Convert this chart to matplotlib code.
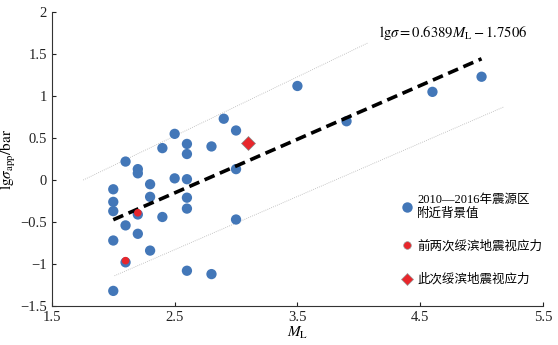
import matplotlib.pyplot as plt
from matplotlib.lines import Line2D

plt.rcParams['font.family'] = ['Liberation Serif', 'Noto Sans CJK SC']
plt.rcParams['mathtext.fontset'] = 'stix'

# 2010-2016 background values
ml_bg = [2.1, 2.2, 2.2, 2.4, 2.5, 2.6, 2.6, 2.8, 2.9, 3.0, 3.0,
         3.5, 3.9, 4.6, 5.0,
         2.0, 2.0, 2.0, 2.0, 2.0, 2.1, 2.1, 2.2, 2.2, 2.3, 2.3, 2.3,
         2.4, 2.5, 2.6, 2.6, 2.6, 2.6, 2.8, 3.0]
lg_bg = [0.22, 0.13, 0.08, 0.38, 0.55, 0.43, 0.31, 0.40, 0.73, 0.59, 0.13,
         1.12, 0.70, 1.05, 1.23,
         -0.11, -0.26, -0.37, -0.72, -1.32, -0.54, -0.98, -0.41, -0.64, -0.05, -0.20, -0.84,
         -0.44, 0.02, 0.01, -0.21, -0.34, -1.08, -1.12, -0.47]

# previous two Suibin earthquakes
ml_prev = [2.1, 2.2]
lg_prev = [-0.96, -0.39]

# this Suibin earthquake
ml_now = [3.1]
lg_now = [0.44]

# fit lgσ = 0.6389 ML - 1.7506
fit_x = [2.0, 5.0]
fit_y = [0.6389 * x - 1.7506 for x in fit_x]

# bounds (dotted)
up_x = [1.755, 4.07]
up_y = [0.0, 1.63]
lo_x = [2.01, 5.18]
lo_y = [-1.14, 0.87]

blue = '#4377b8'
red = '#e8262b'

fig = plt.figure(figsize=(5.58, 3.45), dpi=100)
ax = fig.add_axes([0.093, 0.113, 0.88, 0.852])

ax.plot(up_x, up_y, ls=(0, (1, 1.5)), color='#b5b5b5', lw=0.6)
ax.plot(lo_x, lo_y, ls=(0, (1, 1.5)), color='#b5b5b5', lw=0.6)

ax.scatter(ml_bg, lg_bg, s=55, color=blue, edgecolors='none', zorder=3)
ax.plot(fit_x, fit_y, ls=(0, (3, 1.6)), color='black', lw=2.6, zorder=4)
ax.scatter(ml_prev, lg_prev, s=30, color=red, edgecolors='none', zorder=5)
ax.scatter(ml_now, lg_now, s=50, marker='D', color=red, edgecolors='#888888',
           linewidths=0.5, zorder=5)

ax.set_xlim(1.5, 5.5)
ax.set_ylim(-1.5, 2)
ax.set_xticks([1.5, 2.5, 3.5, 4.5, 5.5])
ax.set_xticklabels(['1.5', '2.5', '3.5', '4.5', '5.5'])
ax.set_yticks([-1.5, -1, -0.5, 0, 0.5, 1, 1.5, 2])
ax.set_yticklabels(['\u22121.5', '\u22121', '\u22120.5', '0', '0.5', '1', '1.5', '2'])
ax.tick_params(direction='in', length=3, labelsize=10.5, colors='#222222')
for s in ['top', 'right']:
    ax.spines[s].set_visible(False)
for s in ['left', 'bottom']:
    ax.spines[s].set_color('#333333')

ax.set_xlabel(r'$M_{\mathrm{L}}$', fontsize=11, labelpad=1)
ax.set_ylabel(r'$\mathrm{lg}\sigma_{\mathrm{app}}/\mathrm{bar}$', fontsize=11, labelpad=2)

ax.text(0.666, 0.93, r'$\mathrm{lg}\sigma = 0.6389M_{\mathrm{L}} - 1.7506$',
        transform=ax.transAxes, fontsize=10.5, va='center')

handles = [
    Line2D([], [], ls='none', marker='o', ms=7.5, color=blue, mec='none'),
    Line2D([], [], ls='none', marker='o', ms=5.5, color=red, mec='#999999', mew=0.5),
    Line2D([], [], ls='none', marker='D', ms=6, color=red, mec='#999999', mew=0.5),
]
labels = ['2010\u20142016年震源区\n附近背景值', '前两次绥滨地震视应力', '此次绥滨地震视应力']
ax.legend(handles, labels, loc='center left', bbox_to_anchor=(0.69, 0.225),
          frameon=False, fontsize=9, handletextpad=0.2, labelspacing=1.65,
          handlelength=1.2, borderpad=0.2)

fig.savefig('out.png', dpi=100)
